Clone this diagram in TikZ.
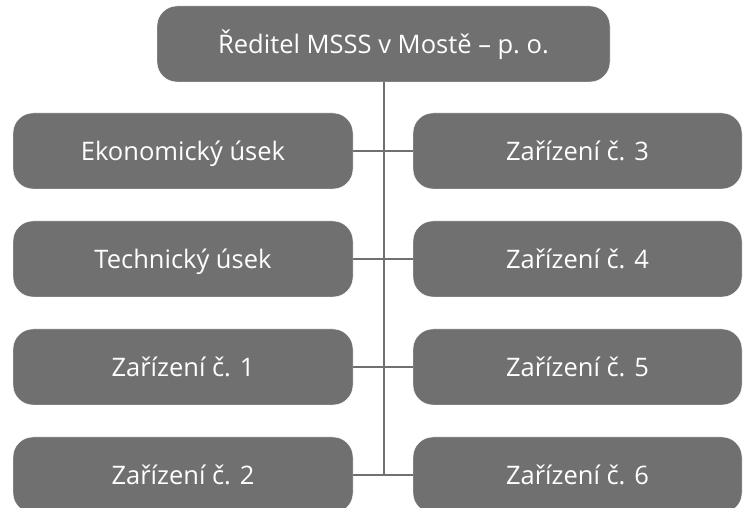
\documentclass[tikz,border=0pt]{standalone}
\usepackage{fontspec}
\setmainfont{Open Sans}
\usepackage{tikz}
\definecolor{boxgray}{HTML}{707070}
\tikzstyle{orgbox} = [draw=white, line width=0.4pt, fill=boxgray, text=white,
    rectangle, rounded corners=20pt, inner sep=0pt, minimum height=76pt,
    text height=18.2pt, text depth=0pt, font=\fontsize{25.5}{30}\selectfont]
\tikzstyle{leftbox} = [orgbox, minimum width=340pt]
\tikzstyle{rightbox} = [orgbox, minimum width=329pt]
\tikzstyle{orgline} = [draw=boxgray, line width=2pt]

\begin{document}
\begin{tikzpicture}[x=1pt, y=1pt]
\useasboundingbox (0,0) rectangle (744,508);
\node [orgbox, minimum width=453pt] (ředitel) at (383.5,464) {Ředitel MSSS v Mostě – p.~o.};
% levy sloupec
\node [leftbox] (ekonom) at (183,357) {Ekonomický úsek};
\node [leftbox] (tech) at (183,249) {Technický úsek};
\node [leftbox] (z1) at (183,141) {Zařízení č. 1};
\node [leftbox] (z2) at (183,33) {Zařízení č. 2};
% pravy sloupec
\node [rightbox] (z3) at (577.5,357) {Zařízení č. 3};
\node [rightbox] (z4) at (577.5,249) {Zařízení č. 4};
\node [rightbox] (z5) at (577.5,141) {Zařízení č. 5};
\node [rightbox] (z6) at (577.5,33) {Zařízení č. 6};
% spojnice
\draw [orgline] (ředitel.south) -- (ředitel.south |- z6.west);
\draw [orgline] (ekonom.east) -- (z3.west);
\draw [orgline] (tech.east) -- (z4.west);
\draw [orgline] (z1.east) -- (z5.west);
\draw [orgline] (z2.east) -- (z6.west);
\end{tikzpicture}
\end{document}
